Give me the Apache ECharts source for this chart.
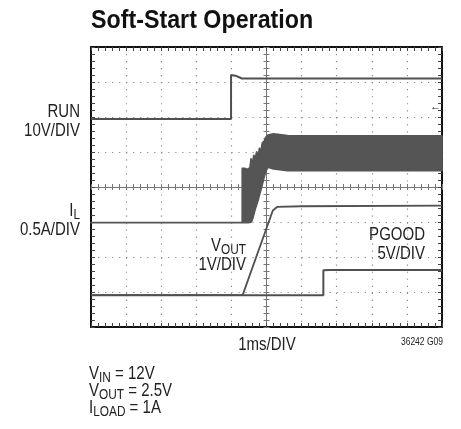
<!DOCTYPE html>
<html><head><meta charset="utf-8">
<script src="https://cdn.jsdelivr.net/npm/echarts@6/dist/echarts.min.js"></script>
<style>html,body{margin:0;padding:0;background:#fff}#c{width:461px;height:429px}</style>
</head><body><div id="c"></div>
<script>
// time in ms (1 ms/div), amplitude in screen divisions (8 divisions)
const runTime = [0, 3.99, 3.99, 4.15, 4.3, 10];
const runDiv  = [5.94, 5.94, 7.2, 7.17, 7.1, 7.1];

const ilTime = [0, 4.31, 4.31, 4.38, 4.45, 4.53, 4.56, 4.59, 4.64, 4.67, 4.72, 4.76, 4.8, 4.84, 4.88, 4.93, 4.98, 5.04, 5.2, 5.6, 10];
const ilLow  = [2.98, 2.98, 2.98, 2.98, 2.98, 2.99, 3.0, 3.05, 3.22, 3.34, 3.5, 3.63, 3.78, 3.92, 4.08, 4.28, 4.45, 4.57, 4.52, 4.47, 4.47];
const ilHigh = [2.98, 2.98, 4.53, 4.53, 4.5, 4.55, 4.8, 4.6, 4.9, 4.75, 5.0, 4.85, 5.1, 5.0, 5.25, 5.3, 5.42, 5.48, 5.52, 5.47, 5.46];

const voutTime = [0, 4.32, 5.18, 5.3, 6, 10];
const voutDiv  = [0.91, 0.91, 3.33, 3.43, 3.45, 3.47];

const pgoodTime = [0, 6.62, 6.62, 6.8, 10];
const pgoodDiv  = [0.91, 0.91, 1.62, 1.63, 1.63];

const xDivs = 10, yDivs = 8;

const FN = '"Liberation Sans", Arial, sans-serif';
const TRACE = '#505050';
const zip = (a, b) => a.map((v, i) => [v, b[i]]);

const chart = echarts.init(document.getElementById('c'), null, {renderer: 'canvas'});

function xAx(extra) {
  return Object.assign({
    type: 'value', min: 0, max: xDivs, interval: 1,
    axisLabel: {show: false},
    axisLine: {show: true, onZero: false, lineStyle: {color: '#111', width: 2}},
    axisTick: {show: true, inside: true, length: 4, lineStyle: {color: '#444'}},
    minorTick: {show: true, splitNumber: 5, length: 4, lineStyle: {color: '#444'}},
    splitLine: {show: false}
  }, extra);
}
function yAx(extra) {
  return Object.assign({
    type: 'value', min: 0, max: yDivs, interval: 1,
    axisLabel: {show: false},
    axisLine: {show: true, onZero: false, lineStyle: {color: '#111', width: 2}},
    axisTick: {show: true, inside: true, length: 4, lineStyle: {color: '#444'}},
    minorTick: {show: true, splitNumber: 5, length: 4, lineStyle: {color: '#444'}},
    splitLine: {show: false}
  }, extra);
}
const centerLine = {show: true, onZero: false, lineStyle: {color: '#777', width: 1}};
const centerTick = {show: true, length: 3, lineStyle: {color: '#777'}};

function label(x, y, text, align, size, sx) {
  return {
    type: 'text', silent: true, x: x, y: y, scaleX: sx || 0.79,
    style: {
      x: 0, y: 0, text: text, align: align, verticalAlign: 'middle',
      fontFamily: FN, fontSize: size, fill: '#222',
      rich: {
        m: {fontFamily: FN, fontSize: size, lineHeight: 21, fill: '#222'},
        s: {fontFamily: FN, fontSize: 15, lineHeight: 15, padding: [7, 0, 0, 0], fill: '#222'}
      }
    }
  };
}

const option = {
  animation: false,
  backgroundColor: '#fff',
  grid: {left: 91, top: 47, width: 351, height: 280, containLabel: false},
  xAxis: [
    xAx({position: 'bottom', splitLine: {show: true, lineStyle: {color: '#8a8a8a', width: 1.2, type: [1.2, 5.82]}}}),
    xAx({position: 'top'}),
    xAx({position: 'bottom', offset: -140, axisLine: centerLine,
         axisTick: Object.assign({inside: true}, centerTick),
         minorTick: Object.assign({show: true, splitNumber: 5}, centerTick)}),
    xAx({position: 'bottom', offset: -140, axisLine: centerLine,
         axisTick: Object.assign({inside: false}, centerTick),
         minorTick: Object.assign({show: true, splitNumber: 5}, centerTick)})
  ],
  yAxis: [
    yAx({position: 'left', splitLine: {show: true, lineStyle: {color: '#8a8a8a', width: 1.2, type: [1.2, 5.82]}}}),
    yAx({position: 'right'}),
    yAx({position: 'left', offset: -175.5, axisLine: centerLine,
         axisTick: Object.assign({inside: true}, centerTick),
         minorTick: Object.assign({show: true, splitNumber: 5}, centerTick)}),
    yAx({position: 'left', offset: -175.5, axisLine: centerLine,
         axisTick: Object.assign({inside: false}, centerTick),
         minorTick: Object.assign({show: true, splitNumber: 5}, centerTick)})
  ],
  series: [
    {
      name: 'IL', type: 'custom', xAxisIndex: 0, yAxisIndex: 0, z: 5, clip: false,
      data: [[0, 0]],
      renderItem: function (params, api) {
        const pts = [];
        for (let i = 0; i < ilTime.length; i++) pts.push(api.coord([ilTime[i], ilHigh[i]]));
        for (let i = ilTime.length - 1; i >= 0; i--) pts.push(api.coord([ilTime[i], ilLow[i]]));
        return {type: 'polygon', shape: {points: pts},
                style: {fill: '#555', stroke: '#555', lineWidth: 1.8, lineJoin: 'round'}};
      }
    },
    {name: 'RUN', type: 'line', data: zip(runTime, runDiv), symbol: 'none', z: 5,
     lineStyle: {color: TRACE, width: 2}},
    {name: 'VOUT', type: 'line', data: zip(voutTime, voutDiv), symbol: 'none', z: 5,
     lineStyle: {color: TRACE, width: 1.8}},
    {name: 'PGOOD', type: 'line', data: zip(pgoodTime, pgoodDiv), symbol: 'none', z: 5,
     lineStyle: {color: TRACE, width: 2}}
  ],
  graphic: [
    {type: 'text', silent: true, x: 91, y: 21, scaleX: 0.93,
     style: {x: 0, y: 0, text: 'Soft-Start Operation', align: 'left',
      verticalAlign: 'middle', fontFamily: FN, fontSize: 25, fontWeight: 'bold', fill: '#111'}},
    label(80, 112, 'RUN', 'right', 19),
    label(80, 131, '10V/DIV', 'right', 19),
    label(80, 211, '{m|I}{s|L}', 'right', 19),
    label(80, 230, '0.5A/DIV', 'right', 19),
    label(246, 246, '{m|V}{s|OUT}', 'right', 19),
    label(246, 265, '1V/DIV', 'right', 19),
    label(425, 235, 'PGOOD', 'right', 19),
    label(425, 254, '5V/DIV', 'right', 19),
    label(267, 345, '1ms/DIV', 'center', 19),
    label(443, 342, '36242 G09', 'right', 10, 0.85),
    label(89, 374, '{m|V}{s|IN}{m| = 12V}', 'left', 19),
    label(89, 391, '{m|V}{s|OUT}{m| = 2.5V}', 'left', 19),
    label(89, 408, '{m|I}{s|LOAD}{m| = 1A}', 'left', 19),
    label(441, 107, '\u2190', 'right', 11, 1)
  ]
};
chart.setOption(option);
</script>
</body></html>
